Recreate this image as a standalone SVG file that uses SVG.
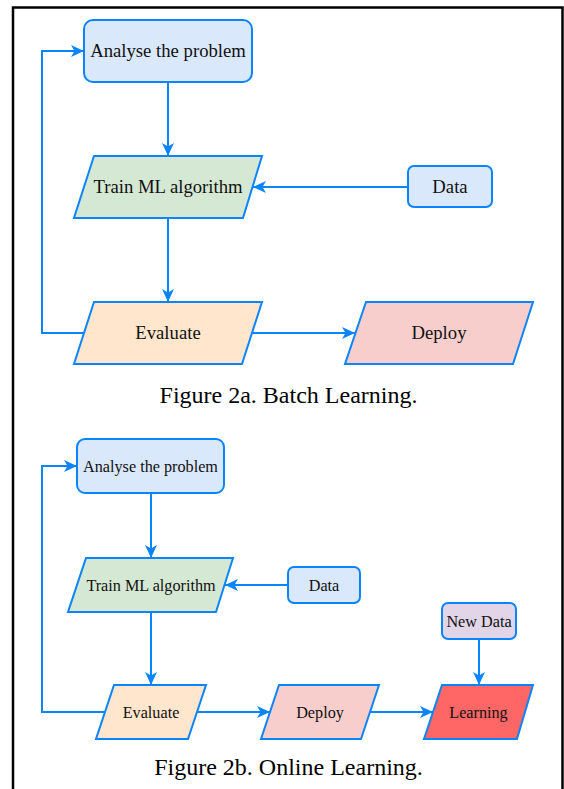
<svg xmlns="http://www.w3.org/2000/svg" width="564" height="789" viewBox="0 0 564 789">
<defs>
<marker id="arr" markerUnits="userSpaceOnUse" markerWidth="14" markerHeight="12" viewBox="0 0 14 12" refX="13" refY="6" orient="auto">
<path d="M0,0 L13,6 L0,12 L3.5,6 Z" fill="#0A84FF"/>
</marker>
<style>
.ln{fill:none;stroke:#0A84FF;stroke-width:2;}
.nd{stroke:#0A84FF;stroke-width:2;}
.blue{fill:#dae8fc;}
.green{fill:#d5e8d4;}
.orange{fill:#ffe6cc;}
.pink{fill:#f8cecc;}
.red{fill:#ff6666;}
.purple{fill:#e1d5e7;}
text{font-family:"Liberation Serif","Times New Roman",serif;fill:#111;text-anchor:middle;}
.ta{font-size:18.7px;}
.tb{font-size:16.2px;}
.cap{font-size:24px;fill:#000;}
</style>
</defs>
<rect x="0" y="0" width="564" height="789" fill="#fff"/>
<path d="M13,789 V7.5 H562.5 V789" fill="none" stroke="#000" stroke-width="2.5"/>

<g id="connectors">
<line class="ln" x1="168" y1="82" x2="168" y2="156" marker-end="url(#arr)"/>
<line class="ln" x1="408" y1="187" x2="253" y2="187" marker-end="url(#arr)"/>
<line class="ln" x1="168" y1="218" x2="168" y2="302" marker-end="url(#arr)"/>
<line class="ln" x1="252" y1="333" x2="355" y2="333" marker-end="url(#arr)"/>
<polyline class="ln" points="84,333 42,333 42,51 84,51" marker-end="url(#arr)"/>

<line class="ln" x1="151" y1="493" x2="151" y2="558" marker-end="url(#arr)"/>
<line class="ln" x1="288" y1="585" x2="225" y2="585" marker-end="url(#arr)"/>
<line class="ln" x1="151" y1="612" x2="151" y2="685" marker-end="url(#arr)"/>
<line class="ln" x1="197" y1="712" x2="270" y2="712" marker-end="url(#arr)"/>
<line class="ln" x1="370" y1="712" x2="433" y2="712" marker-end="url(#arr)"/>
<line class="ln" x1="479" y1="639" x2="479" y2="685" marker-end="url(#arr)"/>
<polyline class="ln" points="105,712 42,712 42,466 77,466" marker-end="url(#arr)"/>
</g>

<g id="a-analyse">
<rect class="nd blue" x="84" y="20" width="168" height="62" rx="9"/>
<text class="ta" x="168" y="57">Analyse the problem</text>
</g>
<g id="a-train">
<polygon class="nd green" points="94,156 262,156 243,218 74,218"/>
<text class="ta" x="168" y="193">Train ML algorithm</text>
</g>
<g id="a-data">
<rect class="nd blue" x="408" y="166" width="84" height="41" rx="6"/>
<text class="ta" x="450" y="193">Data</text>
</g>
<g id="a-evaluate">
<polygon class="nd orange" points="94,302 262,302 242,364 74,364"/>
<text class="ta" x="168" y="339">Evaluate</text>
</g>
<g id="a-deploy">
<polygon class="nd pink" points="366,302 533,302 513,364 345,364"/>
<text class="ta" x="439" y="339">Deploy</text>
</g>
<g id="caption-a">
<text class="cap" x="288.5" y="403">Figure 2a. Batch Learning.</text>
</g>

<g id="b-analyse">
<rect class="nd blue" x="77" y="439" width="147" height="54" rx="8"/>
<text class="tb" x="150.5" y="471.5">Analyse the problem</text>
</g>
<g id="b-train">
<polygon class="nd green" points="86,558 233,558 216,612 68,612"/>
<text class="tb" x="151" y="590.5">Train ML algorithm</text>
</g>
<g id="b-data">
<rect class="nd blue" x="288" y="567" width="72" height="36" rx="6"/>
<text class="tb" x="324" y="590.5">Data</text>
</g>
<g id="b-evaluate">
<polygon class="nd orange" points="114,685 206,685 188,739 96,739"/>
<text class="tb" x="151" y="717.5">Evaluate</text>
</g>
<g id="b-deploy">
<polygon class="nd pink" points="279,685 379,685 361,739 261,739"/>
<text class="tb" x="320" y="717.5">Deploy</text>
</g>
<g id="b-newdata">
<rect class="nd purple" x="442" y="603" width="74" height="36" rx="6"/>
<text class="tb" x="479" y="626.5">New Data</text>
</g>
<g id="b-learning">
<polygon class="nd red" points="442,685 533,685 517,739 424,739"/>
<text class="tb" x="478.5" y="717.5">Learning</text>
</g>
<g id="caption-b">
<text class="cap" x="288.5" y="775">Figure 2b. Online Learning.</text>
</g>
</svg>
